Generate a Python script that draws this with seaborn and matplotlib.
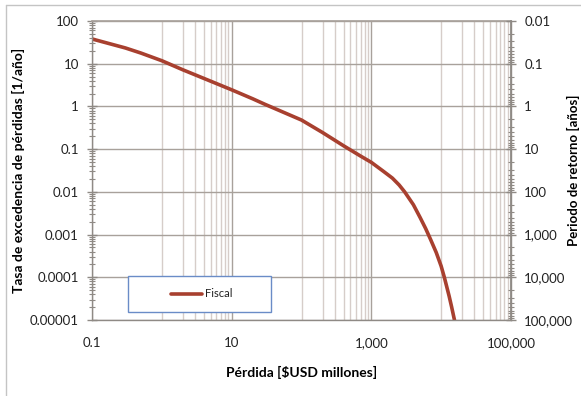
import numpy as np
import pandas as pd
import matplotlib
matplotlib.use("Agg")
import matplotlib.pyplot as plt
import matplotlib.ticker as mticker
from matplotlib.patches import Rectangle
from matplotlib.lines import Line2D
import seaborn as sns

# loss exceedance curve
loss = [0.1, 0.3, 0.5, 1, 2, 5, 10, 20, 30, 100, 200, 400, 700, 1000, 1500,
        2000, 2500, 3000, 4000, 5000, 6000, 7000, 8500, 10000, 11100, 13000,
        14100, 15500]
rate = [38, 23.4, 17.8, 11.75, 7.2, 3.9, 2.45, 1.51, 1.12, 0.48, 0.245, 0.12,
        0.069, 0.049, 0.030, 0.021, 0.0145, 0.0100, 0.0050, 0.0025, 0.00138,
        0.00079, 0.00038, 0.000182, 0.0001, 0.0000363, 0.0000204, 0.00001]

x_ticks = [0.1, 10, 1000, 100000]
x_labels = ["0.1", "10", "1,000", "100,000"]
y_ticks = [1e-5, 1e-4, 1e-3, 1e-2, 1e-1, 1, 10, 100]
y_labels = ["0.00001", "0.0001", "0.001", "0.01", "0.1", "1", "10", "100"]
rp_ticks = [0.01, 0.1, 1, 10, 100, 1000, 10000, 100000]
rp_labels = ["0.01", "0.1", "1", "10", "100", "1,000", "10,000", "100,000"]

df = pd.DataFrame({"loss": loss, "rate": rate})

sns.set_theme(style="white")
plt.rcParams["font.family"] = ["Lato", "DejaVu Sans"]

fig = plt.figure(figsize=(5.81, 3.96), dpi=100)
ax = fig.add_axes([92/581, 1-320/396, 419/581, 299/396])

sns.lineplot(data=df, x="loss", y="rate", ax=ax, color="#a8402f",
             linewidth=2.6, label="Fiscal", legend=False)

ax.set_xscale("log")
ax.set_yscale("log")
ax.set_xlim(0.1, 100000)
ax.set_ylim(1e-5, 100)

# x: majors every two decades, minors only in the upper decade of each span
ax.xaxis.set_major_locator(mticker.FixedLocator(x_ticks))
ax.xaxis.set_major_formatter(mticker.FixedFormatter(x_labels))
minor_x = [k * m for m in (1, 100, 10000) for k in range(1, 10) if k * m not in x_ticks]
ax.xaxis.set_minor_locator(mticker.FixedLocator(minor_x))
ax.xaxis.set_minor_formatter(mticker.NullFormatter())

ax.yaxis.set_major_locator(mticker.FixedLocator(y_ticks))
ax.yaxis.set_major_formatter(mticker.FixedFormatter(y_labels))
ax.yaxis.set_minor_locator(mticker.LogLocator(base=10, subs=np.arange(2, 10), numticks=20))
ax.yaxis.set_minor_formatter(mticker.NullFormatter())

ax.grid(True, which="major", axis="y", color="#a8a19b", linewidth=1.0)
ax.grid(True, which="major", axis="x", color="#a8a19b", linewidth=1.0)
ax.grid(True, which="minor", axis="x", color="#d6cdc9", linewidth=1.0)
ax.set_axisbelow(True)

spine_c = "#8f8a85"
for s in ["left", "bottom", "right"]:
    ax.spines[s].set_color(spine_c)
    ax.spines[s].set_linewidth(1.0)
ax.spines["top"].set_color("#a8a19b")

ax.tick_params(axis="x", which="major", direction="out", length=4, width=1,
               color=spine_c, pad=8, labelsize=9.5, labelcolor="#222222")
ax.tick_params(axis="x", which="minor", length=0)
ax.tick_params(axis="y", which="major", direction="inout", length=7, width=1,
               color=spine_c, pad=6, labelsize=9.5, labelcolor="#222222")
ax.tick_params(axis="y", which="minor", direction="inout", length=4, width=0.8,
               color=spine_c)

ax.set_xlabel("Pérdida [\\$USD millones]", fontsize=10, fontweight="bold", color="black")
ax.set_ylabel("Tasa de excedencia de pérdidas [1/año]", fontsize=10,
              fontweight="bold", color="black")
ax.xaxis.set_label_coords(0.5, -0.155)
ax.yaxis.set_label_coords(-0.160, 0.5)

# return period on the right
ax2 = ax.twinx()
ax2.set_yscale("log")
ax2.set_ylim(1e5, 0.01)
ax2.yaxis.set_major_locator(mticker.FixedLocator(rp_ticks))
ax2.yaxis.set_major_formatter(mticker.FixedFormatter(rp_labels))
ax2.yaxis.set_minor_locator(mticker.LogLocator(base=10, subs=np.arange(2, 10), numticks=20))
ax2.yaxis.set_minor_formatter(mticker.NullFormatter())
ax2.grid(False)
for s in ["left", "bottom", "top"]:
    ax2.spines[s].set_visible(False)
ax2.spines["right"].set_color(spine_c)
ax2.tick_params(axis="y", which="major", direction="inout", length=7, width=1,
                color=spine_c, pad=6, labelsize=9.5, labelcolor="#222222")
ax2.tick_params(axis="y", which="minor", direction="inout", length=4, width=0.8,
                color=spine_c)
ax2.set_ylabel("Periodo de retorno [años]", fontsize=9.5, fontweight="bold", color="black")
ax2.yaxis.set_label_coords((567 - 92) / 419, 0.5)

# legend box
box = Rectangle((0.086, 0.027), 0.341, 0.12, transform=ax.transAxes,
                facecolor="white", edgecolor="#6a8cc7", linewidth=1.0, zorder=5)
ax.add_patch(box)
leg = ax.legend(loc="center", bbox_to_anchor=(0.262, 0.087), frameon=False,
                fontsize=8, handlelength=2.8, handletextpad=0.2)
leg.set_zorder(6)
for t in leg.get_texts():
    t.set_color("#222222")

# outer chart frame
fig.add_artist(Line2D([6/581, 6/581], [0, 1 - 5/396], transform=fig.transFigure,
                      color="#c4c4c4", linewidth=1.0))
fig.add_artist(Line2D([6/581, 1], [1 - 5/396, 1 - 5/396], transform=fig.transFigure,
                      color="#c4c4c4", linewidth=1.0))

fig.savefig("out.png", dpi=100)
